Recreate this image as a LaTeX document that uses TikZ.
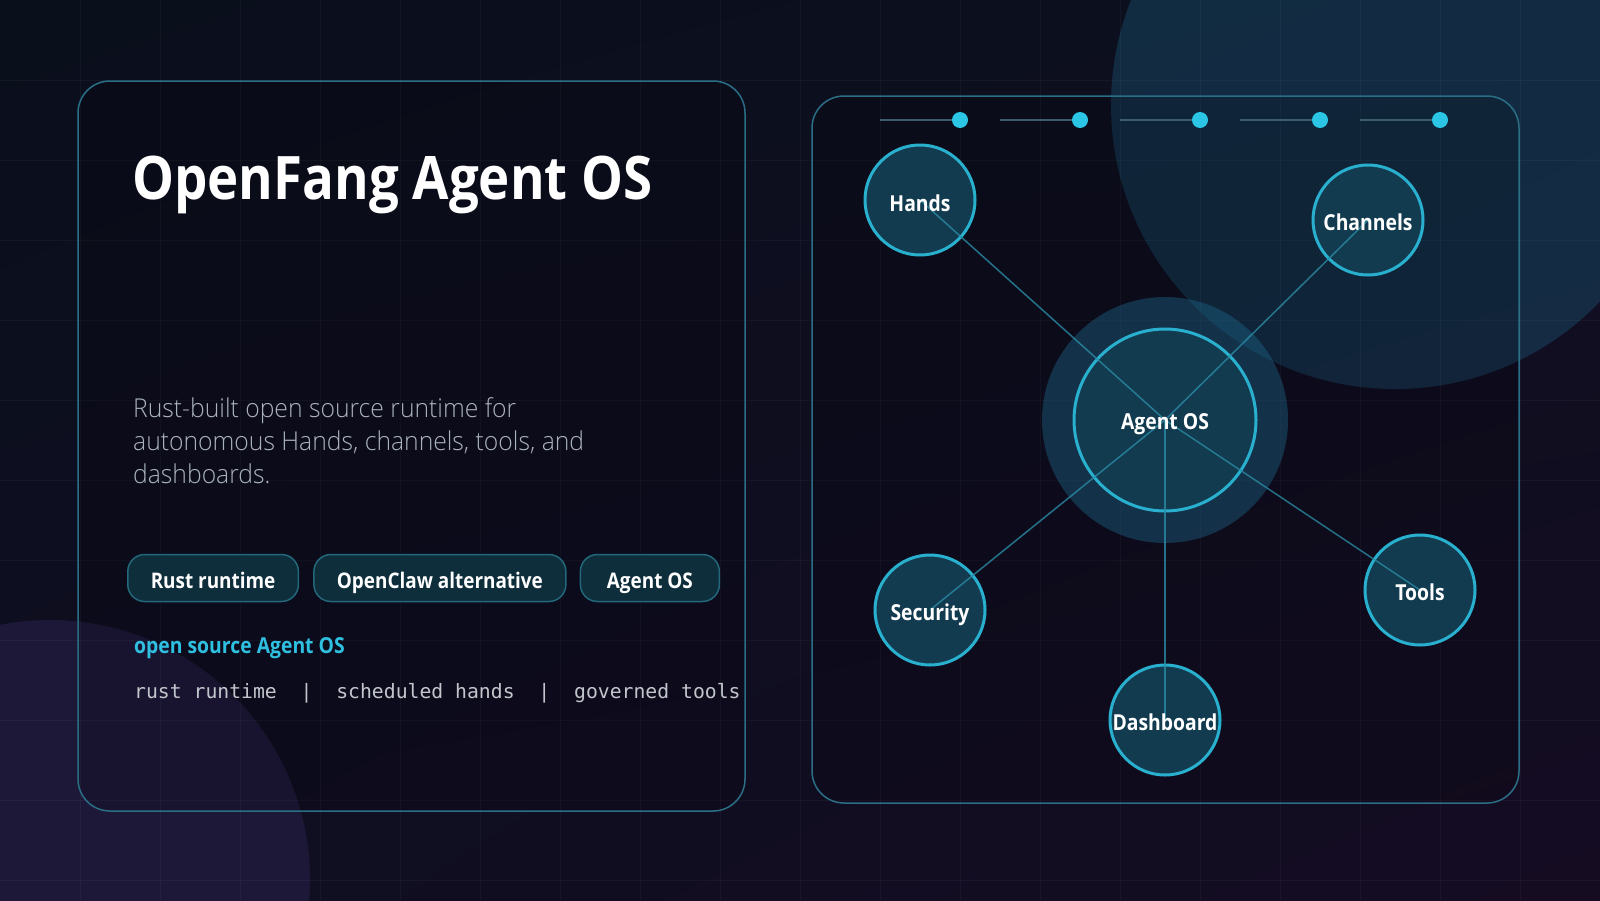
\documentclass[tikz,border=0pt]{standalone}
\usepackage{fontspec}
\setmainfont{Open Sans}
\newfontfamily\headfont{Open Sans}[FakeStretch=0.88]
\IfFontExistsTF{Open Sans Light}{\newfontfamily\thinfont{Open Sans Light}[FakeStretch=0.95]}{\newfontfamily\thinfont{Open Sans}[FakeStretch=0.95]}
\newfontfamily\codefont{DejaVu Sans Mono}
\usetikzlibrary{positioning,shadings}

\definecolor{bgA}{HTML}{0A0F1C}
\definecolor{bgB}{HTML}{0D0F1F}
\definecolor{bgC}{HTML}{0F0E21}
\definecolor{bgD}{HTML}{150C22}
\definecolor{haze}{HTML}{1F6F94}
\definecolor{plum}{HTML}{1D1838}
\definecolor{frame}{HTML}{2A6F86}
\definecolor{ring}{HTML}{2AB0CF}
\definecolor{bubble}{HTML}{123B50}
\definecolor{wire}{HTML}{2A8CA5}
\definecolor{beacon}{HTML}{2BC6E6}
\definecolor{rail}{HTML}{3D5A6E}
\definecolor{pillfill}{HTML}{0F2E3C}
\definecolor{pillline}{HTML}{22687A}
\definecolor{accent}{HTML}{2FBFE0}
\definecolor{muted}{HTML}{AAB2BD}
\definecolor{codegray}{HTML}{C2C6CC}

\tikzset{
  panel/.style={draw=frame, line width=1.5pt, rounded corners=32pt, fill=black, fill opacity=0.15},
  orb/.style={circle, draw=ring, line width=3pt, fill=bubble, minimum size=110pt, inner sep=0pt},
  link/.style={draw=wire, line width=1.5pt, opacity=0.8},
  lbl/.style={text=white, anchor=base, inner sep=0pt, font=\headfont\bfseries\fontsize{22}{26}\selectfont},
  pill/.style={draw=pillline, line width=1.5pt, fill=pillfill, rounded corners=17pt, minimum height=47pt,
    inner xsep=23pt, text height=20pt, text depth=0pt, text=white, font=\headfont\bfseries\fontsize{21.5}{25}\selectfont},
}

\begin{document}
\begin{tikzpicture}[x=1pt,y=-1pt]
\useasboundingbox (0,0) rectangle (1600,900);
\shade[upper left=bgA, upper right=bgB, lower left=bgC, lower right=bgD] (0,0) rectangle (1600,900);

% soft background blobs
\fill[plum] (50,880) circle[radius=260];
\fill[haze, opacity=0.3] (1395,105) circle[radius=284];

% grid
\foreach \gx in {80,160,...,1520} \draw[white, opacity=0.035, line width=1pt] (\gx,0) -- (\gx,900);
\foreach \gy in {80,160,...,880} \draw[white, opacity=0.035, line width=1pt] (0,\gy) -- (1600,\gy);

% panels
\draw[panel] (78,81) rectangle (745,811);
\draw[panel] (812,96) rectangle (1519,803);

% progress rail
\foreach \dx in {960,1080,1200,1320,1440} {
  \draw[rail, line width=2pt] (\dx-80,120) -- (\dx,120);
  \fill[beacon] (\dx,120) circle[radius=8];
}

% architecture graph
\fill[haze, opacity=0.38] (1165,420) circle[radius=123];
\node[orb, minimum size=182pt] (agent) at (1165,420) {};
\node[orb] (hands) at (920,200) {};
\node[orb] (channels) at (1368,220) {};
\node[orb] (security) at (930,610) {};
\node[orb] (tools) at (1420,590) {};
\node[orb] (dashboard) at (1165,720) {};
\foreach \n in {hands,channels,security,tools,dashboard} \draw[link] (agent.center) -- (\n.center);

\node[lbl] (agent-t) at ([yshift=-9pt]agent.center) {Agent OS};
\node[lbl] (hands-t) at ([yshift=-11pt]hands.center) {Hands};
\node[lbl] (channels-t) at ([yshift=-10pt]channels.center) {Channels};
\node[lbl] (security-t) at ([yshift=-10pt]security.center) {Security};
\node[lbl] (tools-t) at ([yshift=-10pt]tools.center) {Tools};
\node[lbl] (dashboard-t) at ([yshift=-10pt]dashboard.center) {Dashboard};

% left column
\node[anchor=base west, inner sep=0pt, text=white, font=\headfont\bfseries\fontsize{60}{70}\selectfont] (title) at (132,199) {OpenFang Agent OS};
\node[anchor=base west, inner sep=0pt, align=left, text=muted, font=\thinfont\fontsize{26}{33}\selectfont] (blurb) at (133,483)
  {Rust-built open source runtime for\\autonomous Hands, channels, tools, and\\dashboards.};

\node[pill, anchor=west] (rust) at (127,578) {Rust runtime};
\node[pill, right=14pt of rust] (claw) {OpenClaw alternative};
\node[pill, right=13pt of claw, minimum width=139pt] (osbadge) {Agent OS};

\node[anchor=base west, inner sep=0pt, text=accent, font=\headfont\bfseries\fontsize{22}{26}\selectfont] (tagline) at (134,653) {open source Agent OS};
\node[anchor=base west, inner sep=0pt, text=codegray, font=\codefont\fontsize{19.75}{24}\selectfont] (traits) at (134,698)
  {rust runtime\ \ |\ \ scheduled hands\ \ |\ \ governed tools};
\end{tikzpicture}
\end{document}
